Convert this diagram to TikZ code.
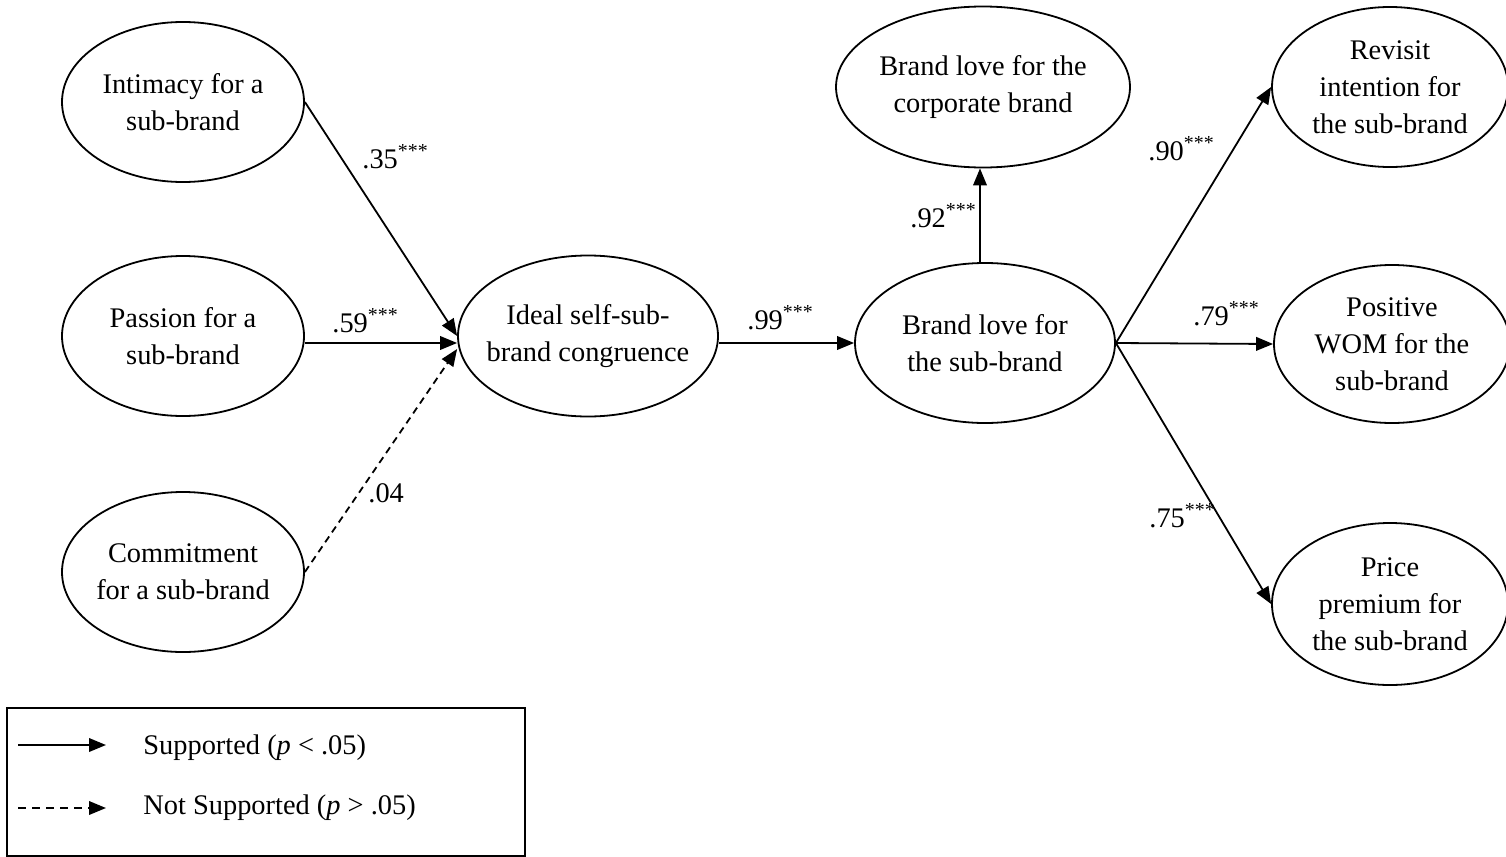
\documentclass[tikz,border=0pt]{standalone}
\usepackage{fontspec}
\setmainfont{Liberation Serif}
\usetikzlibrary{arrows.meta,calc,shapes.geometric}

\begin{document}
\begin{tikzpicture}[
  x=0.5pt, y=-0.5pt,
  font=\fontsize{14.2pt}{18.5pt}\selectfont,
  construct/.style={draw, ellipse, line width=0.9pt, align=center, inner sep=-15pt},
  causal/.style={line width=0.9pt, -{Triangle[length=8.5pt, width=6.8pt]}},
  weak/.style={causal, dash pattern=on 3.5pt off 2.5pt},
  coef/.style={anchor=base west, inner sep=0pt}
]
\useasboundingbox (0,0) rectangle (1506,857);

% latent constructs
\node[construct, minimum width=121pt, minimum height=80pt] (int) at (183,102) {Intimacy for a\\sub-brand};
\node[construct, minimum width=121pt, minimum height=80pt] (pas) at (183,336) {Passion for a\\sub-brand};
\node[construct, minimum width=121pt, minimum height=80pt] (com) at (183,572) {Commitment\\for a sub-brand};
\node[construct, minimum width=130pt, minimum height=80.5pt] (ide) at (588,336) {Ideal self-sub-\\brand congruence};
\node[construct, minimum width=130pt, minimum height=80pt] (sub) at (985,343) {Brand love for\\the sub-brand};
\node[construct, minimum width=147pt, minimum height=80.5pt] (cor) at (983,87) {Brand love for the\\corporate brand};
\node[construct, minimum width=118pt, minimum height=80pt] (rev) at (1390,87) {Revisit\\intention for\\the sub-brand};
\node[construct, minimum width=118pt, minimum height=79pt] (wom) at (1392,344) {Positive\\WOM for the\\sub-brand};
\node[construct, minimum width=118pt, minimum height=81pt] (pri) at (1390,604) {Price\\premium for\\the sub-brand};

% structural paths
\draw[causal] (int.east) -- (ide.west);
\draw[causal] ($(pas.east)+(0,7)$) -- ($(ide.west)+(0,7)$);
\draw[weak] (com.east) -- ($(ide.west)+(0,13)$);
\draw[causal] ($(ide.east)+(0,7)$) -- (sub.west);
\draw[causal] ([xshift=-2.5pt]sub.north) -- ([xshift=-2.5pt]sub.north |- cor.south);
\draw[causal] (sub.east) -- (rev.west);
\draw[causal] (sub.east) -- (wom.west);
\draw[causal] (sub.east) -- (pri.west);

% path coefficients
\node[coef] (c1) at (362,168) {.35\textsuperscript{***}};
\node[coef] (c2) at (332,332) {.59\textsuperscript{***}};
\node[coef] (c3) at (368,502) {.04};
\node[coef] (c4) at (747,329) {.99\textsuperscript{***}};
\node[coef] (c5) at (910,227) {.92\textsuperscript{***}};
\node[coef] (c6) at (1148,160) {.90\textsuperscript{***}};
\node[coef] (c7) at (1193,325) {.79\textsuperscript{***}};
\node[coef] (c8) at (1149,527) {.75\textsuperscript{***}};

% legend
\draw[line width=0.9pt] (7,708) rectangle (525,856);
\coordinate (l1a) at (18,745);
\coordinate (l1b) at (106,745);
\coordinate (l2a) at (18,808);
\coordinate (l2b) at (106,808);
\draw[causal] (l1a) -- (l1b);
\draw[causal, dash pattern=on 4pt off 3pt] (l2a) -- (l2b);
\node[anchor=west, inner sep=0pt] (t1) at (143,748) {Supported (\textit{p} < .05)};
\node[anchor=west, inner sep=0pt] (t2) at (143,808) {Not Supported (\textit{p} > .05)};
\end{tikzpicture}
\end{document}
